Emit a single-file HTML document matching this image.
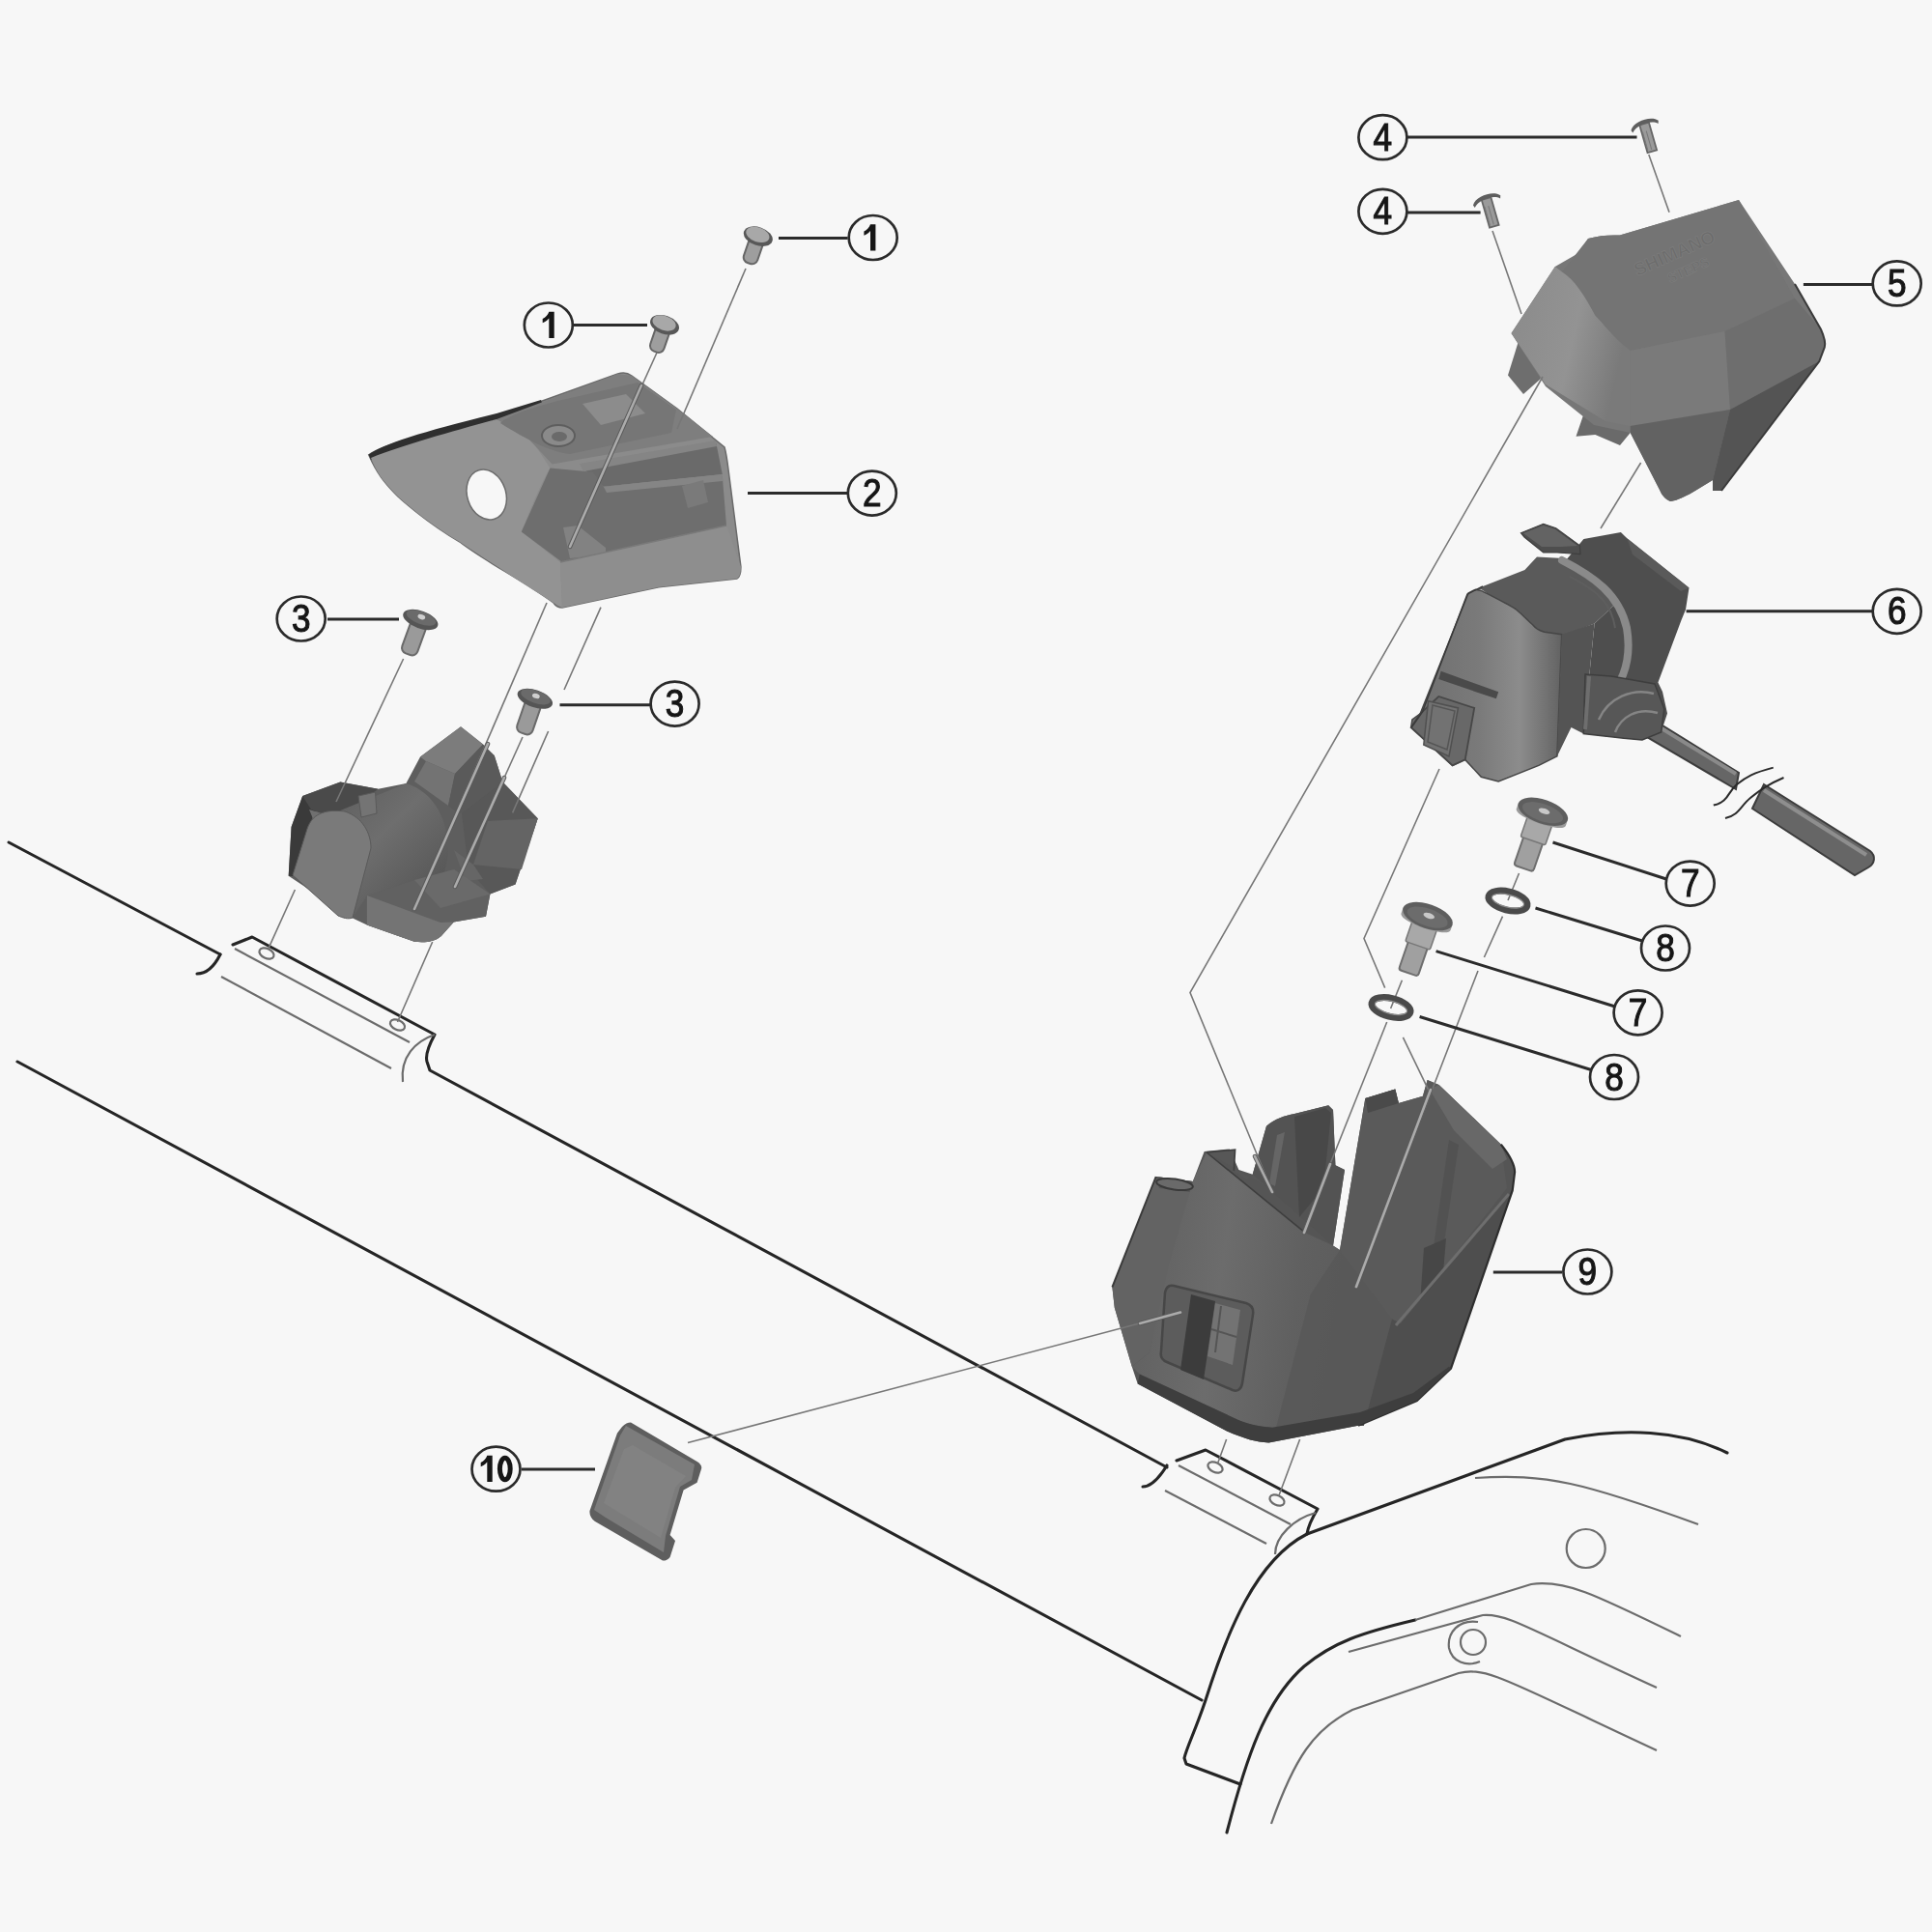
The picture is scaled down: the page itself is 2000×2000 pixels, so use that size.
<!DOCTYPE html>
<html><head><meta charset="utf-8">
<style>
html,body{margin:0;padding:0;background:#f7f7f7;}
svg{display:block;}
.c{fill:#f7f7f7;stroke:#2a2a2a;stroke-width:2.7;}
.t{font-family:"Liberation Sans",sans-serif;font-weight:normal;font-size:40px;fill:#151515;stroke:#151515;stroke-width:1.1px;text-anchor:middle;}
.ld{stroke:#2a2a2a;stroke-width:3;fill:none;}
.bl{stroke:#252525;stroke-width:3.1;fill:none;stroke-linejoin:round;stroke-linecap:round;}
.gl{stroke:#7a7a7a;stroke-width:1.6;fill:none;}
.gt{stroke:#6c6c6c;stroke-width:2.2;fill:none;}
</style></head>
<body>
<svg width="2000" height="2000" viewBox="0 0 2000 2000">
<rect width="2000" height="2000" fill="#f7f7f7"/>

<!-- ===== FRAME LINES ===== -->
<g id="frame">
  <!-- top long line with pad -->
  <path class="bl" d="M9,872 L228,988"/>
  <path class="bl" d="M228,988 C222,1000 214,1008 204,1008"/>
  <path class="bl" d="M241,978 L261,970 L450,1071 C444,1082 440,1092 442,1099 L445,1108 L1208,1519"/>
  <path class="gt" d="M243,982 L424,1079"/>
  <path class="gt" d="M229,1011 L405,1106"/>
  <path class="gt" d="M450,1071 C430,1078 414,1094 417,1120"/>
  <ellipse cx="276" cy="987" rx="8" ry="5" transform="rotate(25 276 987)" class="gt"/>
  <ellipse cx="411.5" cy="1061" rx="8" ry="5" transform="rotate(25 411.5 1061)" class="gt"/>
  <!-- second long line -->
  <path class="bl" d="M18,1099 L1244,1760"/>
  <!-- right pad -->
  <path class="bl" d="M1208,1517 C1200,1530 1192,1539 1183,1539"/>
  <path class="bl" d="M1218,1512 L1248,1501 L1364,1562 C1358,1572 1354,1580 1353,1588"/>
  <path class="gt" d="M1220,1517 L1336,1578"/>
  <path class="gt" d="M1206,1543 L1311,1598"/>
  <path class="gt" d="M1362,1566 C1340,1572 1320,1590 1320,1609"/>
  <ellipse cx="1258" cy="1519" rx="8" ry="5" transform="rotate(25 1258 1519)" class="gt"/>
  <ellipse cx="1322" cy="1553" rx="8" ry="5" transform="rotate(25 1322 1553)" class="gt"/>
  <!-- big curved frame -->
  <path class="bl" d="M1788,1504 C1740,1480 1680,1478 1620,1490 L1353,1588 C1300,1615 1270,1690 1248,1760 C1238,1790 1228,1810 1226,1820 L1228,1826 L1284,1847"/>
  <path class="bl" d="M1270,1897 C1290,1820 1310,1760 1350,1725 C1380,1700 1410,1690 1465,1677"/>
  <path class="gt" d="M1465,1677 L1585,1640 C1620,1635 1650,1650 1740,1694"/>
  <path class="gt" d="M1396,1710 L1535,1672 C1560,1670 1580,1685 1715,1747"/>
  <path class="gt" d="M1316,1888 C1340,1820 1360,1790 1400,1770 L1510,1732 C1540,1725 1560,1740 1715,1812"/>
  <path class="gt" d="M1527,1530 C1600,1525 1640,1535 1758,1578"/>
  <circle cx="1641.7" cy="1603" r="20" class="gt"/>
  <circle cx="1525" cy="1700" r="13" class="gt"/>
  <path class="gt" d="M1530,1679 C1510,1676 1498,1690 1500,1706 C1503,1720 1518,1726 1532,1720"/>
</g>

<!-- ===== PART 2 ===== -->
<g id="p2">
  <path fill="#8b8b8b" stroke="#6a6a6a" stroke-width="1.5" d="M381.7,470.8 C395,462 440,448 514,432 L639.5,387 C645,385 650,386 654,389 L701,423 L750,463 C752,470 753,478 754,486 L766.9,586.5 C767,593 766,597 763,599 L682,607.7 L582,629 C578,629 575,627 573,624 C540,600 500,580 476,561 C440,540 412,514 412,514 C398,500 390,490 381.7,470.8 Z"/>
  <!-- dark top stripe -->
  <path fill="#2f2f2f" d="M381.7,470.8 C395,460 440,446 514,428 L560,414 L562,420 L514,436 C470,448 420,462 384,476 Z"/>
  <!-- left wing lighter -->
  <path fill="#939393" d="M384,474 C420,460 470,446 514,434 L540,440 L569.5,484.6 C560,500 548,530 539.8,550.4 L580,582 L582,629 C575,626 520,590 476,561 C440,540 412,514 412,514 C398,500 390,490 384,474 Z"/>
  <!-- top plate -->
  <path fill="#7e7e7e" d="M514,434 L639.5,387 L654,389 L701,423 L738,452 L620,472 L571.6,480.4 L545,452 Z"/>
  <path fill="#767676" d="M518,438 C525,430 560,418 600,410 L660,396 L700,424 L695,448 L590,470 C570,468 545,455 518,438 Z"/>
  <path fill="#8c8c8c" d="M603,418 L648,408 L668,428 L622,440 Z"/>
  <ellipse cx="578" cy="451" rx="17" ry="11" fill="#8a8a8a" stroke="#5e5e5e" stroke-width="2"/>
  <ellipse cx="579" cy="452" rx="8" ry="5" fill="#6a6a6a"/>
  <!-- upper slot -->
  <path fill="#6a6a6a" d="M603.4,484.6 L741.4,459 L747.8,491 L624.7,503.7 Z"/>
  <path fill="#858585" d="M600,480 L741,456 L742,462 L604,488 Z"/>
  <!-- lower recess -->
  <path fill="#6e6e6e" d="M539.8,550.4 L569.5,484.6 L614,488.8 L624.7,503.7 L747.8,493 L752,544 L629,573.7 L582,582 Z"/>
  <path fill="#858585" d="M624.7,503.7 L747.8,491 L748,498 L628,510 Z"/>
  <path fill="#7a7a7a" d="M706,503 L728,497 L733,520 L712,526 Z"/>
  <path fill="#828282" d="M583,546 L598,544 L627,567 L627,574 L590,578 Z"/>
  <!-- front bottom face -->
  <path fill="#8e8e8e" d="M580,582 L752,544 L766.9,586.5 C767,593 766,597 763,599 L682,607.7 L582,629 Z"/>
  <path fill="none" stroke="#7a7a7a" stroke-width="1.5" d="M580,582 L752,544"/>
  <!-- hole -->
  <ellipse cx="503.7" cy="512" rx="20" ry="26.5" transform="rotate(-18 503.7 512)" fill="#f7f7f7" stroke="#6c6c6c" stroke-width="1.5"/>
</g>

<!-- ===== PART 3 ===== -->
<g id="p3">
  <defs>
    <linearGradient id="cyl3" x1="0" y1="0" x2="1" y2="1">
      <stop offset="0" stop-color="#5a5a5a"/><stop offset="0.45" stop-color="#6e6e6e"/><stop offset="1" stop-color="#4e4e4e"/>
    </linearGradient>
  </defs>
  <path fill="#5e5e5e" d="M313.2,824 L352.3,809.6 L391.4,816.8 L420.4,811 L435,783.5 L477,752.3 L500,770.4 L506,779 L511.7,782 L520.4,809.6 L556.7,847.2 L533.5,915.4 L507.4,925.5 L503,948.7 L469.7,954.5 L456.7,969 C450,975 440,976 429,974.8 L379.9,957.4 L364,950 L298.7,906.7 L301.6,856 Z"/>
  <!-- dark left side -->
  <path fill="#3a3a3a" d="M313.2,824 L301.6,856 L298.7,906.7 L303,907 L325,842 L335,826 Z"/>
  <!-- top-left block -->
  <path fill="#4a4a4a" d="M313.2,824 L352.3,809.6 L391.4,816.8 L365,838 L344,846 L322,838 Z"/>
  <path fill="#707070" d="M320,838 L345,846 L350,860 L330,862 Z"/>
  <!-- cylinder -->
  <path fill="url(#cyl3)" d="M345,842 L420.4,811 C450,820 465,850 464,885 L458,913 L379.9,927 L365,950 L320,910 Z"/>
  <path fill="#747474" stroke="#5a5a5a" stroke-width="1" d="M371,824 L388.5,820 L390,842 L374,846 Z"/>
  <!-- end cap dome -->
  <path fill="#7a7a7a" stroke="#5a5a5a" stroke-width="1" d="M303,906 L318,858 C324,840 340,838 357,840 C375,846 384,862 384,878 L365,950 C360,952 355,950 350,948 Z"/>
  <!-- top block -->
  <path fill="#7c7c7c" d="M435,783.5 L477,752.3 L500,770.4 L471,801 L441,788 Z"/>
  <path fill="#737373" d="M441,788 L471,801 L464,834 L429,809 Z"/>
  <path fill="#5a5a5a" d="M471,801 L500,770.4 L511.7,782 L520.4,809.6 L500,840 L475,842 L464,834 Z"/>
  <!-- right block -->
  <path fill="#585858" d="M478,842 L520.4,809.6 L556.7,847.2 L533.5,915.4 L507.4,925.5 L485,900 Z"/>
  <path fill="#646464" d="M505,850 L556.7,847.2 L540,900 L490,895 Z"/>
  <path fill="#666" d="M470,880 L490,895 L500,910 L482,912 Z"/>
  <!-- base plate -->
  <path fill="#616161" d="M379.9,927 L429,911 L507.4,925.5 L503,948.7 L469.7,954.5 L456.7,969 C450,975 440,976 429,974.8 L379.9,957.4 Z"/>
  <path fill="#747474" d="M379.9,927 L456,955 L469.7,954.5 L456.7,969 C450,975 440,976 429,974.8 L379.9,957.4 Z"/>
  <path fill="#6a6a6a" d="M429,911 L470,900 L507.4,925.5 L456,940 Z"/>
</g>

<!-- ===== PART 5 ===== -->
<g id="p5">
  <defs>
    <linearGradient id="g5a" x1="0" y1="0" x2="1" y2="0.3">
      <stop offset="0" stop-color="#8a8a8a"/><stop offset="0.6" stop-color="#939393"/><stop offset="1" stop-color="#7a7a7a"/>
    </linearGradient>
  </defs>
  <!-- tabs -->
  <path fill="#6e6e6e" d="M1571.7,354 L1561,388.4 L1577,408 L1595,392 L1585,365 Z"/>
  <path fill="#6a6a6a" d="M1642.4,420 L1631.5,451.8 L1651.4,450 L1677,461 L1687.7,448 L1665,425 Z"/>
  <!-- base silhouette -->
  <path fill="#777" d="M1564.5,345 L1609.8,276 L1635,261.6 L1644,247 C1655,244 1665,243 1676.8,243.5 L1800,207 L1858,294 L1885,341 C1889,350 1890,355 1888.8,359.4 L1883.3,374 L1782,508 L1773,508 L1773,497 L1749,511.6 C1740,516 1734,519 1729,519 C1724,517 1720,512 1718.5,508 L1687.7,448 L1650,440 L1600,400 Z"/>
  <!-- top face -->
  <path fill="#747474" d="M1617,281.5 L1644,247 C1655,244 1665,243 1676.8,243.5 L1800,207 L1858,308.7 L1785.5,343 L1687.7,363 C1670,350 1660,335 1651.4,326.8 C1640,305 1630,290 1617,281.5 Z"/>
  <g transform="translate(1736 268) rotate(-24)" font-family="Liberation Sans, sans-serif" font-weight="bold" text-anchor="middle" fill="#6c6c6c" stroke="#7c7c7c" stroke-width="0.8">
    <text x="0" y="0" font-size="19">SHIMANO</text>
    <text x="6" y="20" font-size="14">STEPS</text>
  </g>
  <!-- front-left light face -->
  <path fill="url(#g5a)" d="M1564.5,345 L1609.8,276 L1617,281.5 C1630,290 1640,305 1651.4,326.8 C1660,335 1670,350 1687.7,363 L1687.7,441 L1662,436 L1600,398 Z"/>
  <!-- middle front face -->
  <path fill="#7a7a7a" d="M1687.7,363 L1785.5,343 L1791,424 L1687.7,441 Z"/>
  <!-- right front face -->
  <path fill="#6e6e6e" d="M1785.5,343 L1858,308.7 L1885,341 C1889,350 1890,355 1888.8,359.4 L1883.3,374 L1791,424 Z"/>
  <!-- lower left face -->
  <path fill="#626262" d="M1687.7,441 L1791,424 L1773,497 L1749,511.6 C1740,516 1734,519 1729,519 C1724,517 1720,512 1718.5,508 L1687.7,448 Z"/>
  <!-- lower right face -->
  <path fill="#545454" d="M1791,424 L1883.3,374 L1782,508 L1773,508 L1773,497 Z"/>
  <path fill="none" stroke="#3a3a3a" stroke-width="2" d="M1858,294 L1885,341 C1889,350 1890,355 1888.8,359.4 L1883.3,374 L1782,508"/>
</g>

<!-- ===== PART 6 ===== -->
<g id="p6">
  <defs>
    <linearGradient id="g6f" x1="0" y1="0" x2="1" y2="0">
      <stop offset="0" stop-color="#6e6e6e"/><stop offset="0.45" stop-color="#7a7a7a"/><stop offset="0.72" stop-color="#8c8c8c"/><stop offset="0.95" stop-color="#6a6a6a"/><stop offset="1" stop-color="#626262"/>
    </linearGradient>
    <linearGradient id="gcab" x1="0" y1="0" x2="0.3" y2="1">
      <stop offset="0" stop-color="#8a8a8a"/><stop offset="0.6" stop-color="#6a6a6a"/><stop offset="1" stop-color="#3e3e3e"/>
    </linearGradient>
  </defs>
  <!-- cable -->
  <path fill="#666" stroke="#3c3c3c" stroke-width="2" d="M1700,738 L1800,800 L1797,817 L1693,756 Z"/>
  <path fill="none" stroke="#8a8a8a" stroke-width="4" d="M1702,743 L1797,801"/>
  <path fill="#666" stroke="#3c3c3c" stroke-width="2" d="M1826,812 L1936,881 C1942,886 1941,894 1934,898 L1920,906 L1814,837 Z"/>
  <path fill="none" stroke="#8e8e8e" stroke-width="4" d="M1826,818 L1932,885"/>
  <path fill="none" stroke="#2a2a2a" stroke-width="2" d="M1773.8,833.6 C1790,830 1788,820 1798,812 C1808,804 1815,800 1835.7,794.6"/>
  <path fill="none" stroke="#2a2a2a" stroke-width="2" d="M1786,847 C1800,844 1802,834 1812,826 C1822,818 1830,812 1846.5,805"/>
  <!-- back box -->
  <path fill="#4e4e4e" d="M1639.4,558 L1677.9,551 L1684.3,557.3 L1748.5,608.6 L1745,631 L1740.4,642.3 L1716.4,706.5 L1721,716 L1726,738.6 L1719.6,757.9 L1700,766 L1681,764.3 L1639.3,759.5 L1650.6,645.5 L1674.6,623 L1618.5,583 Z"/>
  <path fill="#5a5a5a" d="M1684.3,557.3 L1748.5,608.6 L1740,612 L1690,574 Z"/>
  <!-- tab -->
  <path fill="#4e4e4e" stroke="#3e3e3e" stroke-width="1.2" d="M1574.5,551.7 L1597.7,542.3 L1610.7,546.7 L1635.4,564.8 L1636,573.5 L1612,572 L1597.7,572 L1578,556 Z"/><path fill="#636363" d="M1577,552 L1597.7,544 L1610,548 L1633,565 L1616,566 L1596,566 Z"/>
  <!-- top face of front box -->
  <path fill="#5a5a5a" d="M1519,615 L1535,607 L1578.4,590 L1591,576.5 L1618.5,578 L1674.6,623 L1650.6,645.5 L1613.7,660 L1597.6,655 C1575,640 1555,625 1533.4,610 Z"/>
  <!-- curved cable on top -->
  <path fill="none" stroke="#8a8a8a" stroke-width="8" stroke-linecap="round" d="M1617,580 C1650,597 1676,615 1684,650 C1689,680 1681,700 1673,712"/>
  <path fill="none" stroke="#5e5e5e" stroke-width="2" d="M1625,597 C1655,612 1668,625 1672,650"/>
  <!-- front face -->
  <path fill="url(#g6f)" stroke="#464646" stroke-width="1.5" d="M1520.2,613.8 L1527.4,610.2 L1533.3,611.4 C1550,620 1560,625 1569,630.5 C1578,638 1582,643 1586.9,647 C1590,651 1594,653 1598.8,654.3 L1616.7,656.7 L1611.9,782.9 L1592.9,792.4 L1551.2,809 L1533.3,804.3 L1516.7,786.4 L1503.6,792.4 L1473.8,765 L1460.7,753 L1461.9,744.8 L1470.2,738.8 Z"/>
  <!-- right face -->
  <path fill="#545454" d="M1616.7,656.7 L1650.6,645.5 L1639.3,759.5 L1626.5,753 L1611.9,782.9 Z"/>
  <!-- connector -->
  <path fill="#4a4a4a" d="M1491.7,694.8 L1551.2,716.2 L1548.8,723.3 L1489.3,703.1 Z"/>
  <path fill="#686868" stroke="#474747" stroke-width="1.8" d="M1460.7,753 L1470.2,738.8 L1489.3,721 L1526.2,732.9 L1516.7,786.4 L1503.6,792.4 L1473.8,765 Z"/>
  <path fill="#727272" stroke="#505050" stroke-width="1.5" d="M1478.6,725.7 L1509.5,732.9 L1500,782.9 L1473.8,771 Z"/>
  <path fill="none" stroke="#555" stroke-width="1.5" d="M1483,730 L1506,736 L1498,776 L1478,768 Z"/>
  <!-- grommet area -->
  <path fill="#575757" stroke="#3e3e3e" stroke-width="1.5" d="M1639.3,759.5 L1641,698 L1668,700 L1713,708 L1722.8,733.8 L1719.6,757.9 L1700,766 L1681,764.3 Z"/>
  <path fill="none" stroke="#858585" stroke-width="2.5" d="M1655,745 C1665,722 1690,712 1712,718 M1672,758 C1678,742 1695,732 1716,738"/>
  <path fill="none" stroke="#6e6e6e" stroke-width="4" d="M1645,700 L1641,755"/>
  <path fill="none" stroke="#3a3a3a" stroke-width="1.5" d="M1461.2,753 L1472.5,737 L1519,615 L1535,607"/>
</g>

<!-- ===== PART 9 ===== -->
<g id="p9">
  <defs>
    <linearGradient id="g9f" x1="0" y1="0" x2="1" y2="0.15">
      <stop offset="0" stop-color="#5e5e5e"/><stop offset="0.4" stop-color="#6c6c6c"/><stop offset="0.7" stop-color="#606060"/><stop offset="1" stop-color="#5a5a5a"/>
    </linearGradient>
  </defs>
  <!-- silhouette -->
  <path fill="#555" d="M1151.4,1332.4 L1196.7,1218 L1234.8,1222.9 L1246.7,1191.9 L1272.9,1189.5 L1282.4,1211 L1296.7,1215.7 L1311,1165.7 C1320,1158 1330,1155 1340,1153 L1375.2,1144.3 L1380,1149 L1382.4,1206.2 L1392,1211 L1380,1289.5 L1387,1294 L1413.3,1137.1 L1444.3,1127.6 L1447.9,1141.9 L1472.9,1134.8 L1477.6,1118.1 L1489.5,1122.9 L1553.8,1184.8 C1562,1195 1568,1205 1568.1,1213.3 L1565.7,1232.4 L1502,1416.7 L1466.8,1450 L1406,1475.7 L1313.4,1493.4 C1300,1493 1290,1490 1270,1481.6 L1177.7,1432.4 L1171.8,1414.7 L1153.8,1353.8 Z"/>
  <!-- inner left wall -->
  <path fill="#535353" d="M1311,1165.7 C1320,1158 1330,1155 1340,1153 L1375.2,1144.3 L1380,1149 L1382.4,1206.2 L1392,1211 L1380,1289.5 L1296.7,1215.7 Z"/>
  <path fill="#484848" d="M1340,1156 L1372,1147 L1378,1152 L1370,1230 L1345,1260 Z"/>
  <path fill="#666" d="M1322,1175 L1330,1172 L1320,1228 L1314,1225 Z"/>
  <!-- inner right wall -->
  <path fill="#5a5a5a" d="M1387,1294 L1413.3,1137.1 L1444.3,1127.6 L1447.9,1141.9 L1472.9,1134.8 L1477.6,1118.1 L1489.5,1122.9 L1553.8,1184.8 L1560,1230 L1450,1370 L1435,1373 Z"/>
  <path fill="#4a4a4a" d="M1413.3,1137.1 L1444.3,1127.6 L1447.9,1141.9 L1416,1152 Z"/>
  <path fill="#686868" d="M1480,1128 L1489.5,1122.9 L1553.8,1184.8 L1560,1200 L1545,1210 L1505,1170 Z"/>
  <path fill="#525252" d="M1500,1180 L1510,1185 L1490,1320 L1480,1318 Z"/>
  <path fill="#474747" d="M1474,1292 L1497,1282 L1492,1340 L1470,1350 Z"/>
  <!-- left cylinder -->
  <path fill="#636363" d="M1151.4,1332.4 L1196.7,1218 L1234.8,1222.9 L1215,1300 L1190,1400 L1171.8,1414.7 L1153.8,1353.8 Z"/>
  <path fill="#555" d="M1196.7,1218 L1234.8,1222.9 L1232,1234 L1200,1230 Z"/>
  <!-- front face -->
  <path fill="url(#g9f)" d="M1234.8,1222.9 L1249,1192.9 L1351.3,1276.3 L1380,1289.5 L1387,1294 L1441,1365.6 L1411.8,1475.7 L1317,1477.7 C1300,1476 1290,1474 1282,1470 L1179.7,1422.6 L1171.8,1414.7 L1190,1400 L1210,1310 Z"/>
  <path fill="#585858" d="M1356.7,1340 L1387,1294 L1441,1365.6 L1411.8,1475.7 L1321,1477.7 Z" opacity="0.8"/>
  <path fill="#575757" d="M1249,1192.9 L1278.6,1190.2 L1277.3,1211.7 L1290,1221 L1297,1216 L1311,1228 Z"/><path fill="none" stroke="#3e3e3e" stroke-width="1.6" d="M1249,1193 L1351,1276 M1249,1192.9 L1278.6,1190.2 L1277.3,1211.7"/>
  <ellipse cx="1216" cy="1226" rx="19" ry="5.5" transform="rotate(8 1216 1226)" fill="#6a6a6a" stroke="#3a3a3a" stroke-width="2"/>
  <path fill="none" stroke="#3a3a3a" stroke-width="2" d="M1196.7,1218 L1151.4,1332.4"/>
  <!-- right face -->
  <path fill="#4e4e4e" d="M1441,1365.6 L1450,1370 L1565.7,1232.4 L1502,1416.7 L1466.8,1450 L1406,1475.7 L1411.8,1475.7 Z"/>
  <path fill="none" stroke="#6e6e6e" stroke-width="3" d="M1445,1372 L1562,1236"/>
  <path fill="none" stroke="#2e2e2e" stroke-width="2.2" d="M1553.8,1184.8 C1562,1195 1568,1205 1568.1,1213.3 L1565.7,1232.4 L1502,1416.7 L1466.8,1450 L1406,1475.7"/>
  <!-- bottom dark band -->
  <path fill="#3e3e3e" d="M1179.7,1422.6 L1282,1470 C1295,1475 1305,1477 1317,1477.7 L1408,1462 L1463,1442 L1500,1414.7 L1502,1416.7 L1466.8,1450 L1406,1475.7 L1313.4,1493.4 C1300,1493 1290,1490 1270,1481.6 L1177.7,1432.4 Z"/>
  <!-- connector window -->
  <path fill="#5c5c5c" stroke="#474747" stroke-width="2.5" d="M1215,1331 L1290,1349 C1296,1351 1298,1355 1297,1361 L1286,1432 C1285,1438 1281,1441 1276,1439 L1208,1410 C1203,1408 1201,1404 1202,1399 L1206,1338 C1207,1333 1210,1330 1215,1331 Z"/>
  <path fill="#3c3c3c" d="M1233,1340 L1258,1347 L1246,1428 L1222,1418 Z"/>
  <path fill="#737373" d="M1258,1349 L1284,1356 L1276,1413 L1250,1404 Z"/>
  <path fill="none" stroke="#555" stroke-width="2" d="M1254,1376 L1280,1384 M1264,1352 L1258,1400"/>
</g>

<!-- ===== PART 10 ===== -->
<g id="p10">
  <path fill="#5e5e5e" d="M644,1477 C647,1474 650,1472.6 653,1472.6 L721.6,1513 C725,1515 727,1518 726,1520.7 L721.6,1534.7 L707.6,1542.5 L693.6,1589 L699,1595 L693.6,1612 C691,1615 688,1616 686,1615.5 L616,1575 C612,1572 610,1568 610.5,1564 L639,1483.5 Z"/>
  <path fill="#7c7c7c" d="M648,1476 L719,1516 L716,1532 L704,1539 L689,1590 L687,1607 L627,1571 L615,1563 L642,1486 Z"/>
  <path fill="#828282" d="M655,1496 L710,1528 L699,1540 L684,1592 L625,1556 L646,1500 Z"/>
</g>

<!-- ===== ASSEMBLY LINES ===== -->
<g id="alines" fill="none" stroke="#777" stroke-width="1.6">
  <path d="M772,278 L701,444"/>
  <path d="M680,365 L588.6,567"/>
  <path d="M566,624 L429,941.4"/>
  <path d="M622,628.6 L584,714 M567.6,757 L530.6,841.4"/>
  <path d="M541,763 L471,918"/>
  <path d="M417.6,682 L348,830"/>
  <path d="M305.4,921 L278,981.7 M447.7,975 L411.5,1058"/>
  <path d="M1706.8,160 L1728,219.7"/>
  <path d="M1545,239 L1575,325"/>
  <path d="M1597,390 L1232,1027.5 L1317.7,1235"/>
  <path d="M1698.6,479 L1657,547"/>
  <path d="M1490,796 L1412,971.5 L1433.7,1022.6"/>
  <path d="M1435.7,1058 L1351,1270"/>
  <path d="M1572.5,904 L1561,932 M1451.4,1014.7 L1439.6,1044"/>
  <path d="M1452.4,1073.8 L1479,1128.8"/>
  <path d="M1555.5,948.6 L1536.4,991 M1530,1005 L1404,1332"/>
  <path d="M1222.9,1358.6 L712,1493.6"/>
  <path d="M1269.6,1490 L1260.5,1515 M1345.6,1490 L1324,1548"/>
</g>

<!-- light lines over parts -->
<g fill="none" stroke-linecap="round">
  <path stroke="#5a5a5a" stroke-width="4.5" d="M664,399 L590,566 M505,770 L429,941 M522,805 L471,918 M1299,1197 L1317,1234 M1377,1205 L1350,1276 M1481,1128 L1404,1332 M1222,1358.6 L1180,1370"/>
  <path stroke="#ababab" stroke-width="2.6" d="M664,399 L590,566 M505,770 L429,941 M522,805 L471,918 M1299,1197 L1317,1234 M1377,1205 L1350,1276 M1481,1128 L1404,1332 M1222,1358.6 L1180,1370"/>
</g>

<!-- ===== SCREWS ===== -->
<g id="screws">
  <!-- screw 1 a,b (pan head) -->
  <g transform="translate(785.3,243.2) rotate(19)">
    <rect x="-7.5" y="2" width="15" height="29" rx="6" fill="#9e9e9e" stroke="#666" stroke-width="2"/>
    <ellipse cx="0" cy="1.5" rx="15.5" ry="9.5" fill="#585858"/>
    <ellipse cx="-1" cy="0" rx="12.5" ry="7.5" fill="#a8a8a8"/>
  </g>
  <g transform="translate(688.5,334.8) rotate(19)">
    <rect x="-7.5" y="2" width="15" height="29" rx="6" fill="#9e9e9e" stroke="#666" stroke-width="2"/>
    <ellipse cx="0" cy="1.5" rx="15.5" ry="9.5" fill="#585858"/>
    <ellipse cx="-1" cy="0" rx="12.5" ry="7.5" fill="#a8a8a8"/>
  </g>
  <!-- screw 3 a,b (flat head) -->
  <g transform="translate(436,639.6) rotate(20)">
    <rect x="-8.5" y="4" width="17" height="36" rx="6" fill="#9a9a9a" stroke="#6a6a6a" stroke-width="2"/>
    <ellipse cx="0" cy="2" rx="19" ry="9" fill="#555"/>
    <ellipse cx="0" cy="0" rx="16" ry="6.5" fill="#6a6a6a"/>
    <ellipse cx="0" cy="-1" rx="4" ry="2.5" fill="#cfcfcf"/>
  </g>
  <g transform="translate(554.5,721.4) rotate(19)">
    <rect x="-8.5" y="4" width="17" height="36" rx="6" fill="#9a9a9a" stroke="#6a6a6a" stroke-width="2"/>
    <ellipse cx="0" cy="2" rx="19" ry="9" fill="#555"/>
    <ellipse cx="0" cy="0" rx="16" ry="6.5" fill="#6a6a6a"/>
    <ellipse cx="0" cy="-1" rx="4" ry="2.5" fill="#cfcfcf"/>
  </g>
  <!-- screw 4 a,b (thin) -->
  <g transform="translate(1701.5,126) rotate(-16)">
    <rect x="-5" y="2" width="10" height="30" fill="#9a9a9a" stroke="#666" stroke-width="1.8"/>
    <path d="M-4,10 V30 M0,10 V30" stroke="#777" stroke-width="1"/>
    <path d="M-15,5 C-10,-4 10,-4 15,3 L14,6 C8,0 -8,1 -14,8 Z" fill="#5e5e5e"/>
  </g>
  <g transform="translate(1538,203.5) rotate(-16)">
    <rect x="-5" y="2" width="10" height="30" fill="#9a9a9a" stroke="#666" stroke-width="1.8"/>
    <path d="M-4,10 V30 M0,10 V30" stroke="#777" stroke-width="1"/>
    <path d="M-15,5 C-10,-4 10,-4 15,3 L14,6 C8,0 -8,1 -14,8 Z" fill="#5e5e5e"/>
  </g>
  <!-- screw 7 a,b (stepped) -->
  <g transform="translate(1597.3,840.3) rotate(19)">
    <rect x="-10.5" y="18" width="21" height="44" rx="3" fill="#a0a0a0" stroke="#6e6e6e" stroke-width="2"/>
    <rect x="-13.5" y="6" width="27" height="26" rx="2" fill="#a8a8a8" stroke="#777" stroke-width="1.5"/>
    <path d="M-27,0 L-27,6 C-27,15 27,15 27,6 L27,0 Z" fill="#9a9a9a"/>
    <ellipse cx="0" cy="0" rx="27" ry="12.5" fill="#5e5e5e"/>
    <ellipse cx="0" cy="1" rx="22" ry="9" fill="#6c6c6c"/>
    <ellipse cx="1" cy="-1" rx="6" ry="2.8" fill="#c8c8c8"/>
  </g>
  <g transform="translate(1478,948.6) rotate(19)">
    <rect x="-10.5" y="18" width="21" height="44" rx="3" fill="#a0a0a0" stroke="#6e6e6e" stroke-width="2"/>
    <rect x="-13.5" y="6" width="27" height="26" rx="2" fill="#a8a8a8" stroke="#777" stroke-width="1.5"/>
    <path d="M-27,0 L-27,6 C-27,15 27,15 27,6 L27,0 Z" fill="#9a9a9a"/>
    <ellipse cx="0" cy="0" rx="27" ry="12.5" fill="#5e5e5e"/>
    <ellipse cx="0" cy="1" rx="22" ry="9" fill="#6c6c6c"/>
    <ellipse cx="1" cy="-1" rx="6" ry="2.8" fill="#c8c8c8"/>
  </g>
  <!-- washers 8 -->
  <g transform="translate(1561,932.6) rotate(14)">
    <ellipse rx="20.5" ry="9.5" fill="none" stroke="#4a4a4a" stroke-width="7"/><ellipse rx="17" ry="6.5" fill="none" stroke="#8a8a8a" stroke-width="1.2"/>
  </g>
  <g transform="translate(1440,1043) rotate(14)">
    <ellipse rx="20.5" ry="9.5" fill="none" stroke="#4a4a4a" stroke-width="7"/><ellipse rx="17" ry="6.5" fill="none" stroke="#8a8a8a" stroke-width="1.2"/>
  </g>
</g>

<!-- ===== CALLOUTS ===== -->
<g id="callouts" style="opacity:0.995">
  <path class="ld" d="M806,246.5H877.6 M594,336.5H670 M774,510.6H878 M339,641H413 M579.5,729.8H674.8 M1457,142H1694.5 M1457,220H1532.6 M1866.9,294.5H1938 M1745.6,632.8H1938 M1607.5,872L1725,910 M1589.5,940L1700,974 M1486.6,984.6L1672,1042 M1469.6,1052.5L1648,1107.7 M1545.8,1317H1617 M540,1521H616"/>
  <ellipse class="c" cx="903.7" cy="246" rx="25" ry="23"/><path fill="#151515" transform="translate(900.5 259.5)" d="M0.5,-27.3 L5.9,-27.3 L5.9,0 L0.5,0 L0.5,-20.5 C-1.5,-18 -4,-16.5 -6.1,-15.8 L-6.1,-20 C-3,-21.5 -0.5,-24 0.5,-27.3 Z"/>
  <ellipse class="c" cx="567.8" cy="336.5" rx="25" ry="23"/><path fill="#151515" transform="translate(567.8 350)" d="M0.5,-27.3 L5.9,-27.3 L5.9,0 L0.5,0 L0.5,-20.5 C-1.5,-18 -4,-16.5 -6.1,-15.8 L-6.1,-20 C-3,-21.5 -0.5,-24 0.5,-27.3 Z"/>
  <ellipse class="c" cx="902.8" cy="510.6" rx="25" ry="23"/><text class="t" transform="translate(902.8 524.0) scale(0.88 1)" x="0" y="0">2</text>
  <ellipse class="c" cx="311.7" cy="640.5" rx="25" ry="23"/><text class="t" transform="translate(311.7 654.0) scale(0.88 1)" x="0" y="0">3</text>
  <ellipse class="c" cx="698.6" cy="728.6" rx="25" ry="23"/><text class="t" transform="translate(698.6 742.0) scale(0.88 1)" x="0" y="0">3</text>
  <ellipse class="c" cx="1431.4" cy="142.2" rx="25" ry="23"/><text class="t" transform="translate(1431.4 155.7) scale(0.88 1)" x="0" y="0">4</text>
  <ellipse class="c" cx="1431.4" cy="218.8" rx="25" ry="23"/><text class="t" transform="translate(1431.4 232.3) scale(0.88 1)" x="0" y="0">4</text>
  <ellipse class="c" cx="1963.7" cy="293.4" rx="25" ry="23"/><text class="t" transform="translate(1963.7 307.0) scale(0.88 1)" x="0" y="0">5</text>
  <ellipse class="c" cx="1963.7" cy="632.8" rx="25" ry="23"/><text class="t" transform="translate(1963.7 646.3) scale(0.88 1)" x="0" y="0">6</text>
  <ellipse class="c" cx="1749.7" cy="914.6" rx="25" ry="23"/><text class="t" transform="translate(1749.7 928.0) scale(0.88 1)" x="0" y="0">7</text>
  <ellipse class="c" cx="1724" cy="981.5" rx="25" ry="23"/><text class="t" transform="translate(1724.0 995.0) scale(0.88 1)" x="0" y="0">8</text>
  <ellipse class="c" cx="1695.6" cy="1048.3" rx="25" ry="23"/><text class="t" transform="translate(1695.6 1061.8) scale(0.88 1)" x="0" y="0">7</text>
  <ellipse class="c" cx="1671" cy="1115" rx="25" ry="23"/><text class="t" transform="translate(1671.0 1128.5) scale(0.88 1)" x="0" y="0">8</text>
  <ellipse class="c" cx="1643.4" cy="1316.5" rx="25" ry="23"/><text class="t" transform="translate(1643.4 1330.0) scale(0.88 1)" x="0" y="0">9</text>
  <ellipse class="c" cx="513.5" cy="1520.7" rx="25" ry="23"/><path fill="#151515" transform="translate(503.8 1534)" d="M0.5,-27.3 L5.9,-27.3 L5.9,0 L0.5,0 L0.5,-20.5 C-1.5,-18 -4,-16.5 -6.1,-15.8 L-6.1,-20 C-3,-21.5 -0.5,-24 0.5,-27.3 Z"/><ellipse cx="522.8" cy="1520.5" rx="5.4" ry="11.2" fill="none" stroke="#151515" stroke-width="5"/>
</g>

</svg>
</body></html>
